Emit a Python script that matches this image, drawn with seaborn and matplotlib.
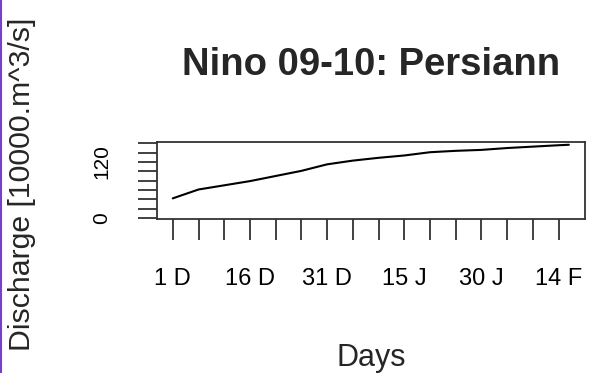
import matplotlib
matplotlib.use("Agg")
import matplotlib.pyplot as plt
import seaborn as sns
import pandas as pd
from matplotlib.lines import Line2D

# datos (dias desde 1 de diciembre)
days = [1, 6, 11, 16, 21, 26, 31, 36, 41, 46, 51, 56, 61, 66, 71, 76, 78]
discharge = [42, 61, 70, 79, 90, 101, 115, 123, 129, 134, 141, 144, 146, 150, 153, 156, 157]

x_ticks = list(range(1, 77, 5))
x_labels = ["1 D", "", "", "16 D", "", "", "31 D", "", "", "15 J", "", "", "30 J", "", "", "14 F"]
y_ticks = list(range(0, 161, 20))
y_labels = ["0", "", "", "", "", "", "120", "", ""]

df = pd.DataFrame({"day": days, "q": discharge})

sns.set_style("white")
plt.rcParams["font.family"] = ["Liberation Sans", "DejaVu Sans"]

fig = plt.figure(figsize=(5.9, 3.73), dpi=100)
ax = fig.add_axes([0.266, 0.412, 0.725, 0.208])

sns.lineplot(data=df, x="day", y="q", color="black", linewidth=1.5, ax=ax)

ax.set_xlim(-2.08, 81.08)
ax.set_ylim(-3, 163.5)
ax.set_xticks(x_ticks)
ax.set_xticklabels(x_labels, fontsize=17, color="black")
ax.set_yticks(y_ticks)
ax.set_yticklabels(y_labels, fontsize=15, rotation=90, va="center", color="black")

ax.tick_params(axis="x", bottom=True, direction="out", length=15, width=1.3,
               color="#333333", pad=20)
ax.tick_params(axis="y", left=True, direction="out", length=14, width=1.3,
               color="#333333", pad=19)
for s in ax.spines.values():
    s.set_color("#333333")
    s.set_linewidth(1.3)

ax.set_title("Nino 09-10: Persiann", fontsize=27.5, fontweight="bold", pad=48)
ax.set_xlabel("Days", fontsize=22, labelpad=38)
ax.set_ylabel("")
fig.text(0.037, 0.507, "Discharge [10000.m^3/s]", rotation=90, fontsize=21.8,
         ha="center", va="center")

# borde morado a la izquierda
fig.add_artist(Line2D([0.001, 0.001], [0, 1], color="#7a3fc9", linewidth=1.5,
                      transform=fig.transFigure))

fig.savefig("out.png", dpi=100)
